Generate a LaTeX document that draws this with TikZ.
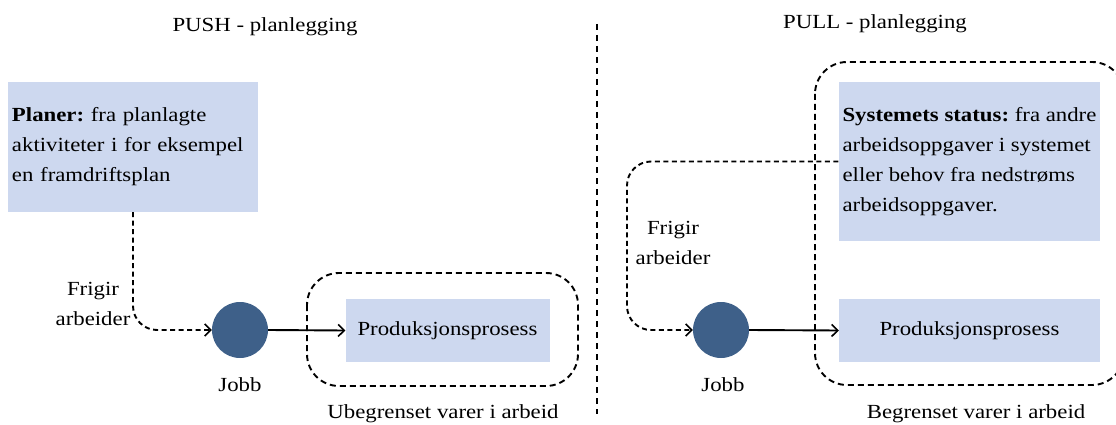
\documentclass[tikz,border=0pt]{standalone}
\usepackage{fontspec}
\setmainfont{Liberation Serif}[FakeStretch=1.14]
\usetikzlibrary{arrows.meta,calc}

\definecolor{boxfill}{RGB}{205,216,239}
\definecolor{jobfill}{RGB}{62,96,137}

\tikzset{
  txt/.style={font=\fontsize{20}{30}\selectfont\frenchspacing, inner sep=0pt},
  infobox/.style={txt, fill=boxfill, inner xsep=4pt, inner ysep=0pt, align=left},
  procbox/.style={txt, fill=boxfill, align=center},
  jobnode/.style={circle, fill=jobfill, minimum size=56pt, inner sep=0pt},
  release/.style={line width=1.9pt, dash pattern=on 5pt off 3.5pt, rounded corners=24pt,
    -{Straight Barb[length=6pt,width=12pt,line width=1.6pt]}},
  flow/.style={line width=1.9pt, -{Straight Barb[length=6pt,width=12pt,line width=1.6pt]}},
  wip/.style={line width=1.9pt, dash pattern=on 6pt off 4pt, rounded corners=32pt},
  divider/.style={line width=2.2pt, dash pattern=on 6pt off 5pt},
}

\begin{document}
\begin{tikzpicture}[x=1pt,y=-1pt]
\useasboundingbox (0,0) rectangle (1116,425);
\clip (0,0) rectangle (1116,425);

% --- PUSH side ---
\node[txt, anchor=base] (pushtitle) at (265,32) {PUSH - planlegging};

\node[infobox, minimum width=250pt, minimum height=130pt, text width=242pt] (planer) at (133,147)
  {\textbf{Planer:} fra planlagte\\aktiviteter i for eksempel\\en framdriftsplan};

\node[jobnode] (jobL) at (240,330) {};
\node[txt, anchor=base] (jobLlabel) at (240,391) {Jobb};

\node[procbox, minimum width=204pt, minimum height=63pt] (prodL) at (447.5,330.5) {Produksjonsprosess};
\draw[wip] (307,273) rectangle (578,386);
\node[txt, anchor=base] (wipL) at (443,418) {Ubegrenset varer i arbeid};

\node[txt, align=center] (relL) at (93,304) {Frigir\\arbeider};

\draw[release] (planer.south) |- (jobL.west);
\draw[flow] (jobL.east) -- (prodL.west);

% --- divider ---
\coordinate (divtop) at (597,24);
\coordinate (divbot) at (597,414);
\draw[divider] (divtop) -- (divbot);

% --- PULL side ---
\node[txt, anchor=base] (pulltitle) at (875,29) {PULL - planlegging};

\draw[wip] (815,62) rectangle (1124,385);

\node[infobox, minimum width=261pt, minimum height=159pt] (status) at (969.5,161.5)
  {\textbf{Systemets status:} fra andre\\arbeidsoppgaver i systemet\\eller behov fra nedstrøms\\arbeidsoppgaver.};

\node[procbox, minimum width=261pt, minimum height=63pt] (prodR) at (969.5,330.5) {Produksjonsprosess};

\node[jobnode] (jobR) at (721,330) {};
\node[txt, anchor=base] (jobRlabel) at (723,391) {Jobb};
\node[txt, anchor=base] (wipR) at (976,418) {Begrenset varer i arbeid};

\node[txt, align=center] (relR) at (673,243) {Frigir\\arbeider};

\coordinate (bendR) at (627,161.5);
\draw[release] (status.west) -- (bendR) |- (jobR.west);
\draw[flow] (jobR.east) -- (prodR.west);
\end{tikzpicture}
\end{document}
